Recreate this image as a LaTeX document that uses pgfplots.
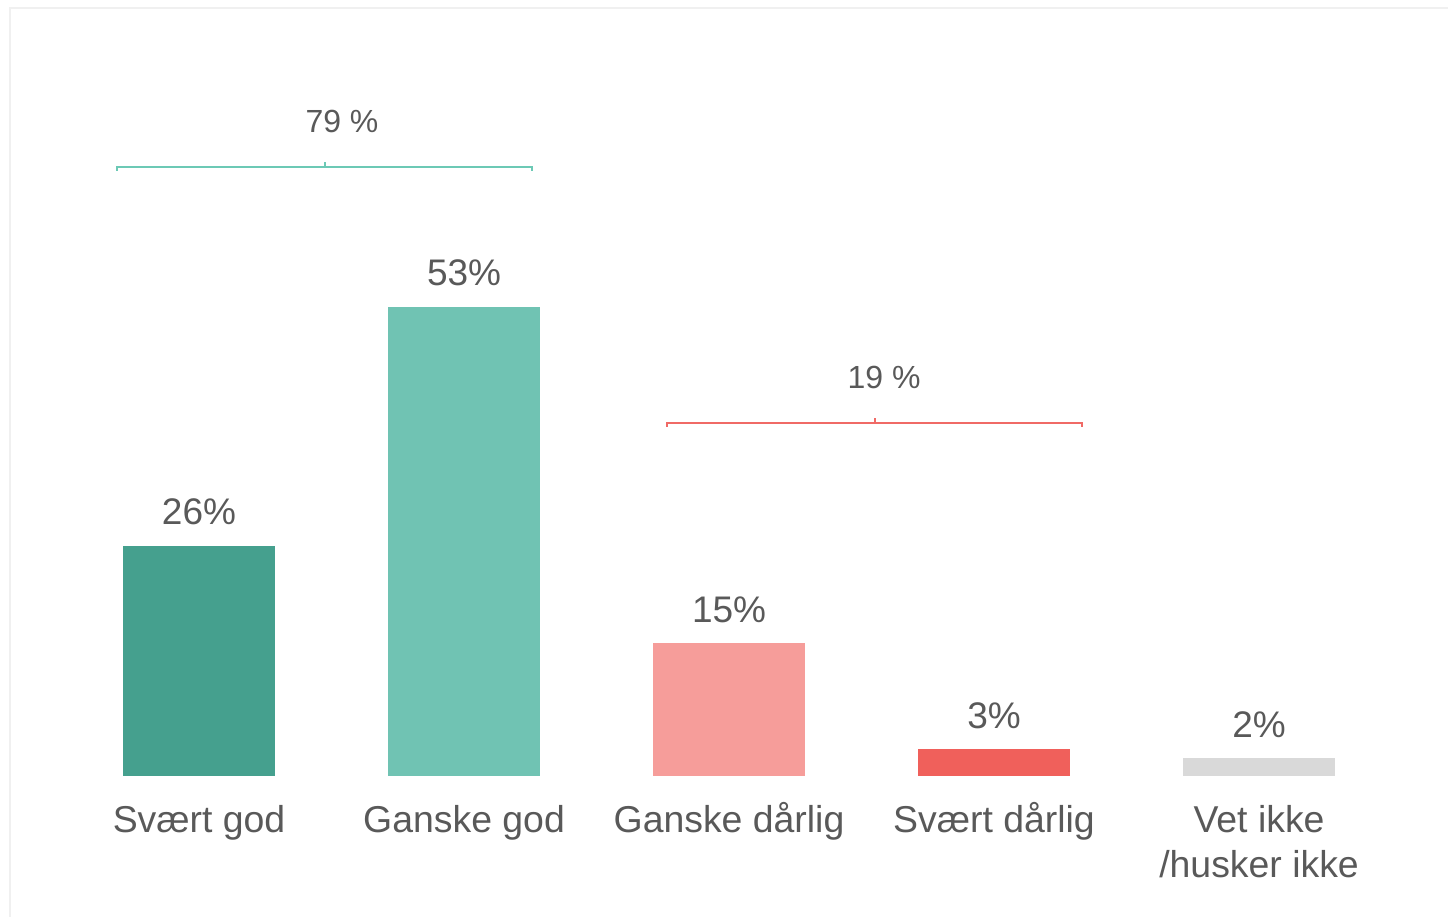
\documentclass[border=0pt]{standalone}
\usepackage{pgfplots}
\pgfplotsset{compat=1.18}
\usepackage{fontspec}
\setmainfont{Liberation Sans}
\definecolor{c1}{HTML}{45A08E}
\definecolor{c2}{HTML}{70C3B3}
\definecolor{c3}{HTML}{F69D9A}
\definecolor{c4}{HTML}{F0605B}
\definecolor{c5}{HTML}{D9D9D9}
\definecolor{txt}{HTML}{595959}
\definecolor{brg}{HTML}{6CC9B5}
\definecolor{brr}{HTML}{F06A66}
\definecolor{frame}{HTML}{F0F0F0}
\begin{document}
\begin{tikzpicture}
\begin{axis}[
  scale only axis, width=724pt, height=388pt,
  xmin=-0.751, xmax=4.713, ymin=0, ymax=87.68,
  axis line style={draw=none},
  tick style={draw=none},
  /pgf/number format/assume math mode=true,
  ytick=\empty,
  xtick={0,1,2,3,4},
  xticklabels={Svært god, Ganske god, Ganske dårlig, Svært dårlig, {\begin{tabular}[t]{@{}c@{}}Vet ikke\\/husker ikke\end{tabular}}},
  xticklabel style={font=\fontsize{18.7}{22.5}\selectfont, text=txt, anchor=base, yshift=-24pt},
  ybar, bar width=76pt, bar shift=0pt,
  clip=false,
  nodes near coords={\pgfmathprintnumber{\pgfplotspointmeta}\%},
  nodes near coords style={font=\fontsize{18.5}{22}\selectfont, text=txt, anchor=base, yshift=10.5pt},
]
\addplot[fill=c1, draw=none] coordinates {(0,26)};
\addplot[fill=c2, draw=none] coordinates {(1,53)};
\addplot[fill=c3, draw=none] coordinates {(2,15)};
\addplot[fill=c4, draw=none] coordinates {(3,3)};
\addplot[fill=c5, draw=none] coordinates {(4,2)};
% brackets
\draw[brg, line width=1pt] (axis cs:-0.309,68.36) -- (axis cs:-0.309,68.81) -- (axis cs:1.2566,68.81) -- (axis cs:1.2566,68.36);
\draw[brg, line width=1pt] (axis cs:0.475,68.81) -- (axis cs:0.475,69.38);
\node[anchor=base, text=txt, font=\fontsize{16}{19}\selectfont] at (axis cs:0.5396,72.66) {79 \%};
\draw[brr, line width=1pt] (axis cs:1.766,39.44) -- (axis cs:1.766,39.89) -- (axis cs:3.332,39.89) -- (axis cs:3.332,39.44);
\draw[brr, line width=1pt] (axis cs:2.551,39.89) -- (axis cs:2.551,40.45);
\node[anchor=base, text=txt, font=\fontsize{16}{19}\selectfont] at (axis cs:2.585,43.73) {19 \%};
\end{axis}
\draw[frame, line width=1pt] (5pt,-70.5pt) -- (5pt,384pt) -- (724pt,384pt);
\pgfresetboundingbox
\path[use as bounding box] (0,-70.5pt) rectangle (724pt,388pt);
\end{tikzpicture}
\end{document}
